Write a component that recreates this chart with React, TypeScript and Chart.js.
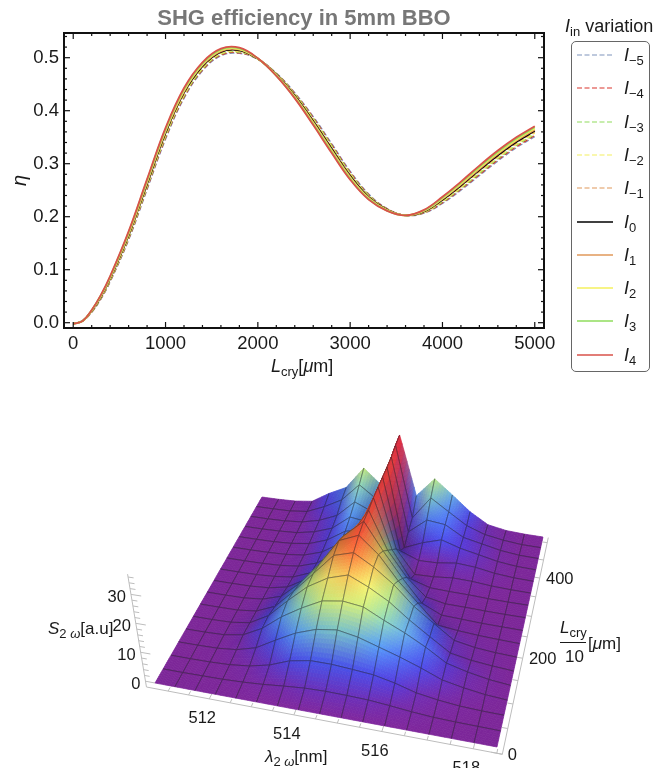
import React, { useEffect, useRef } from "react";
import { Chart, registerables } from "chart.js";

Chart.register(...registerables);

const FONT = '"Liberation Sans", Arial, sans-serif';

// ---------- efficiency curves ----------
const crystalLength = [0, 100, 200, 300, 400, 600, 800, 1000, 1200, 1400, 1600, 1800, 2000, 2200, 2400, 2600, 2800, 3000, 3200, 3400, 3600, 3800, 4000, 4200, 4400, 4600, 4800, 5000];
const iM5 = [-0.002, 0.003, 0.0195, 0.0445, 0.077, 0.156, 0.251, 0.346, 0.423, 0.475, 0.5035, 0.508, 0.497, 0.471, 0.434, 0.389, 0.338, 0.286, 0.243, 0.2155, 0.2025, 0.2065, 0.225, 0.25, 0.2775, 0.305, 0.33, 0.351];
const iM4 = [-0.002, 0.003, 0.02, 0.0454, 0.0782, 0.1578, 0.2532, 0.3484, 0.4252, 0.4768, 0.505, 0.5092, 0.4972, 0.4704, 0.4328, 0.3872, 0.336, 0.2842, 0.2418, 0.215, 0.2025, 0.2072, 0.2264, 0.2518, 0.2796, 0.3072, 0.3322, 0.3532];
const iM3 = [-0.002, 0.003, 0.0205, 0.0463, 0.0794, 0.1596, 0.2554, 0.3508, 0.4274, 0.4786, 0.5065, 0.5104, 0.4974, 0.4698, 0.4316, 0.3854, 0.334, 0.2824, 0.2406, 0.2145, 0.2025, 0.2079, 0.2278, 0.2536, 0.2817, 0.3094, 0.3344, 0.3554];
const iM2 = [-0.002, 0.003, 0.021, 0.0472, 0.0806, 0.1614, 0.2576, 0.3532, 0.4296, 0.4804, 0.508, 0.5116, 0.4976, 0.4692, 0.4304, 0.3836, 0.332, 0.2806, 0.2394, 0.214, 0.2025, 0.2086, 0.2292, 0.2554, 0.2838, 0.3116, 0.3366, 0.3576];
const iM1 = [-0.002, 0.003, 0.0215, 0.0481, 0.0818, 0.1632, 0.2598, 0.3556, 0.4318, 0.4822, 0.5095, 0.5128, 0.4978, 0.4686, 0.4292, 0.3818, 0.33, 0.2788, 0.2382, 0.2135, 0.2025, 0.2093, 0.2306, 0.2572, 0.2859, 0.3138, 0.3388, 0.3598];
const i0 = [-0.002, 0.003, 0.022, 0.049, 0.083, 0.165, 0.262, 0.358, 0.434, 0.484, 0.511, 0.514, 0.498, 0.468, 0.428, 0.38, 0.328, 0.277, 0.237, 0.213, 0.2025, 0.21, 0.232, 0.259, 0.288, 0.316, 0.341, 0.362];
const iP1 = [-0.002, 0.003, 0.0225, 0.0499, 0.0842, 0.1668, 0.2642, 0.3604, 0.4362, 0.4858, 0.5125, 0.5152, 0.4982, 0.4674, 0.4268, 0.3782, 0.326, 0.2752, 0.2358, 0.2125, 0.2025, 0.2107, 0.2334, 0.2608, 0.2901, 0.3182, 0.3432, 0.3642];
const iP2 = [-0.002, 0.003, 0.023, 0.0508, 0.0854, 0.1686, 0.2664, 0.3628, 0.4384, 0.4876, 0.514, 0.5164, 0.4984, 0.4668, 0.4256, 0.3764, 0.324, 0.2734, 0.2346, 0.212, 0.2025, 0.2114, 0.2348, 0.2626, 0.2922, 0.3204, 0.3454, 0.3664];
const iP3 = [-0.002, 0.003, 0.0235, 0.0517, 0.0866, 0.1704, 0.2686, 0.3652, 0.4406, 0.4894, 0.5155, 0.5176, 0.4986, 0.4662, 0.4244, 0.3746, 0.322, 0.2716, 0.2334, 0.2115, 0.2025, 0.2121, 0.2362, 0.2644, 0.2943, 0.3226, 0.3476, 0.3686];
const iP4 = [-0.002, 0.003, 0.024, 0.0526, 0.0878, 0.1722, 0.2708, 0.3676, 0.4428, 0.4912, 0.517, 0.5188, 0.4988, 0.4656, 0.4232, 0.3728, 0.32, 0.2698, 0.2322, 0.211, 0.2025, 0.2128, 0.2376, 0.2662, 0.2964, 0.3248, 0.3498, 0.3708];

const seriesValues = [iM5, iM4, iM3, iM2, iM1, i0, iP1, iP2, iP3, iP4];
const seriesSubs = ["\u22125", "\u22124", "\u22123", "\u22122", "\u22121", "0", "1", "2", "3", "4"];
const seriesColors = ["#7f93bb", "#d9352c", "#8fdc5c", "#f4f05e", "#e0985a", "#000000", "#e0985a", "#f4f05e", "#8fdc5c", "#d9524a"];
const seriesDashed = [true, true, true, true, true, false, false, false, false, false];

const xTickValues = [0, 1000, 2000, 3000, 4000, 5000];
const yTickValues = [0, 0.1, 0.2, 0.3, 0.4, 0.5];

// ---------- spectrum surface ----------
const lambdaNodes = [510.7, 511.19, 511.68, 512.16, 512.65, 513.14, 513.63, 514.11, 514.6, 515.09, 515.58, 516.06, 516.55, 517.04, 517.53, 518.01, 518.5];
const lengthNodes = [0, 31.25, 62.5, 93.75, 125, 156.25, 187.5, 218.75, 250, 281.25, 312.5, 343.75, 375, 406.25, 437.5, 468.75, 500];
const s00 = [0, 0, 0, 0, 0, 0, 0, 0, 0, 0, 0, 0, 0, 0, 0, 0, 0];
const s01 = [0, 0, 0.1, 0.2, 0.5, 1, 1.7, 2.3, 2.5, 2.4, 2.2, 1.6, 0.9, 0.4, 0.2, 0.1, 0];
const s02 = [0, 0, 0.1, 0.4, 1.2, 2.8, 5.5, 6.8, 6.8, 6.3, 5.7, 4.2, 2.2, 1.1, 0.4, 0.1, 0];
const s03 = [0, 0.05, 0.2, 0.9, 2.8, 6.7, 10.4, 12.9, 13.9, 12.6, 10.4, 8.2, 5.7, 2.9, 1.5, 0.5, 0];
const s04 = [0, 0.05, 0.3, 1.5, 5, 10.3, 14.6, 18.3, 19.4, 18.5, 15, 11.8, 8.1, 3.8, 2, 0.7, 0];
const s05 = [0, 0, 0.2, 1.2, 5, 11.5, 17.7, 22, 24.2, 21, 17, 11.7, 7, 2.5, 1.2, 0.5, 0];
const s06 = [0, 0, 0.1, 0.9, 3.8, 10.5, 18, 25.8, 27.9, 23.8, 18.6, 12, 7, 2.2, 0.9, 0.3, 0];
const s07 = [0, 0, 0.1, 0.8, 3, 9, 17, 27, 30, 24, 15.5, 8.6, 1.8, 1, 0.5, 0.2, 0];
const s08 = [0, 0, 0.1, 0.6, 2, 6, 13, 24.7, 31, 21, 12, 4, 0.8, 0.5, 0.2, 0.1, 0];
const s09 = [0, 0, 0.1, 0.5, 1.4, 4.2, 9.5, 20, 31, 17, 8, 1.8, 0.4, 0.3, 0.1, 0, 0];
const s10 = [0, 0, 0.1, 0.4, 1.2, 3.5, 8, 15, 31.7, 13, 3, 0.8, 0.5, 0.4, 0.1, 0, 0];
const s11 = [0, 0, 0.1, 0.4, 1.2, 3.5, 8, 12, 31.8, 9, 0.3, 0.5, 1.2, 1, 0.4, 0.1, 0];
const s12 = [0, 0, 0.1, 0.5, 1.5, 4, 8.5, 10, 31.8, 4, 1.3, 1.5, 2.5, 2, 0.8, 0.2, 0];
const s13 = [0, 0, 0.2, 0.6, 2, 4.5, 10, 9, 31.8, 1, 4, 6.2, 4, 2.5, 1, 0.2, 0];
const s14 = [0, 0, 0.2, 0.8, 2.5, 5.5, 12, 9, 32, 3, 8.8, 8, 4, 2.5, 1, 0.2, 0];
const s15 = [0, 0.05, 0.2, 1, 4, 7.8, 15, 10, 33, 4.5, 13.6, 9, 4.5, 2, 0.8, 0.1, 0];
const s16 = [0, 0.05, 0.3, 1.2, 5.5, 9, 18, 12, 33.5, 9.5, 17.4, 11.8, 6, 1.8, 0.5, 0.1, 0];
const surfaceRows = [s00, s01, s02, s03, s04, s05, s06, s07, s08, s09, s10, s11, s12, s13, s14, s15, s16];

const lambdaMajor = [512, 514, 516, 518];
const lengthMajor = [0, 200, 400];
const heightMajor = [0, 10, 20, 30];

const heightStops: [number, number, number, number][] = [
  [0, 124, 38, 152],
  [0.05, 112, 42, 168],
  [0.12, 84, 58, 214],
  [0.2, 72, 84, 238],
  [0.31, 88, 156, 248],
  [0.43, 134, 212, 196],
  [0.53, 196, 236, 128],
  [0.63, 244, 240, 112],
  [0.73, 248, 190, 84],
  [0.85, 244, 100, 52],
  [1, 226, 38, 52],
];

// ---------- projection of the surface box ----------
const corners = [[155, 683], [497, 747], [543, 537], [262, 497]];
const quad = (() => {
  const [p0, p1, p2, p3] = corners;
  const dx1 = p1[0] - p2[0], dy1 = p1[1] - p2[1], dx2 = p3[0] - p2[0], dy2 = p3[1] - p2[1];
  const sx = p0[0] - p1[0] + p2[0] - p3[0], sy = p0[1] - p1[1] + p2[1] - p3[1];
  const det = dx1 * dy2 - dx2 * dy1;
  const g = (sx * dy2 - dx2 * sy) / det, h = (dx1 * sy - sx * dy1) / det;
  return { g, h, a: p1[0] - p0[0] + g * p1[0], b: p3[0] - p0[0] + h * p3[0], c: p0[0], d: p1[1] - p0[1] + g * p1[1], e: p3[1] - p0[1] + h * p3[1], f: p0[1] };
})();
const LAMBDA_MIN = lambdaNodes[0], LAMBDA_MAX = lambdaNodes[16], LENGTH_MAX = lengthNodes[16];

function project(u: number, v: number, z: number) {
  const w = quad.g * u + quad.h * v + 1;
  const X = (quad.a * u + quad.b * v + quad.c) / w;
  const Y = (quad.d * u + quad.e * v + quad.f) / w;
  const lean = X < 333 ? 0.00258 : 0.0006;
  return { x: X + (X - 333) * z * lean, y: Y - (z * 2.9) / w };
}
const uOf = (l: number) => (l - LAMBDA_MIN) / (LAMBDA_MAX - LAMBDA_MIN);
const vOf = (l: number) => l / LENGTH_MAX;

function heightAt(x: number, y: number) {
  const i = Math.min(15, Math.floor(x)), j = Math.min(15, Math.floor(y));
  const a = x - i, b = y - j;
  const r0 = surfaceRows[j], r1 = surfaceRows[j + 1];
  return (r0[i] * (1 - a) + r0[i + 1] * a) * (1 - b) + (r1[i] * (1 - a) + r1[i + 1] * a) * b;
}
// colour of a surface node: height colour with a little lighting; cells blend their node colours
function nodeColor(i: number, j: number) {
  const s = Math.min(1, surfaceRows[j][i] / 33.5);
  let k = 0;
  while (k < heightStops.length - 2 && s > heightStops[k + 1][0]) k++;
  const A = heightStops[k], B = heightStops[k + 1];
  const t = (s - A[0]) / (B[0] - A[0]);
  const il = Math.max(0, i - 1), ir = Math.min(16, i + 1), jl = Math.max(0, j - 1), jr = Math.min(16, j + 1);
  const su = (((surfaceRows[j][ir] - surfaceRows[j][il]) / (ir - il)) * 2.7) / 22;
  const sv = (((surfaceRows[jr][i] - surfaceRows[jl][i]) / (jr - jl)) * 2.7) / 16;
  const n = Math.sqrt(su * su + sv * sv + 1);
  const ndl = Math.max(0, (-su * 0.15 + sv * 0.3 + 0.88) / n);
  const m = Math.min(1.12, 0.42 + 0.66 * ndl);
  return [1, 2, 3].map((q) => Math.min(255, (A[q] + (B[q] - A[q]) * t) * m));
}

const surfacePlugin = {
  id: "surface",
  afterDatasetsDraw(chart: any) {
    const ctx = chart.ctx;
    const sx = chart.scales.x, sy = chart.scales.y;
    const P = (u: number, v: number, z: number) => {
      const p = project(u, v, z);
      return [sx.getPixelForValue(p.x), sy.getPixelForValue(p.y)];
    };
    const line = (a: number[], b: number[]) => {
      ctx.beginPath();
      ctx.moveTo(a[0], a[1]);
      ctx.lineTo(b[0], b[1]);
      ctx.stroke();
    };
    ctx.save();
    // box axes
    const uLo = -0.03, uHi = 1.015, vHi = 1.03, zLo = -2, zHi = 37;
    ctx.strokeStyle = "#bdbdbd";
    ctx.lineWidth = 1;
    line(P(uLo, 0, zLo), P(uHi, 0, zLo));
    line(P(uHi, 0, zLo), P(uHi, vHi, zLo));
    line(P(uLo, 0, zLo), P(uLo, 0, zHi));
    for (let l = 511; l <= 518.5; l += 0.5) {
      const u = uOf(l), major = lambdaMajor.includes(l);
      line(P(u, 0, zLo), P(u, major ? 0.03 : 0.016, zLo));
    }
    for (let l = 0; l <= 500; l += 50) {
      const major = lengthMajor.includes(l);
      line(P(uHi, vOf(l), zLo), P(uHi - (major ? 0.03 : 0.016), vOf(l), zLo));
    }
    for (let z = 0; z <= 36; z += 2) {
      line(P(uLo, 0, z), P(uLo + (z % 10 === 0 ? 0.03 : 0.016), 0, z));
    }
    // surface, far rows first
    const n = 7;
    const colors = surfaceRows.map((row, j) => row.map((_, i) => nodeColor(i, j)));
    ctx.lineJoin = "round";
    for (let j = 15; j >= 0; j--) {
      for (let i = 0; i < 16; i++) {
        const c00 = colors[j][i], c10 = colors[j][i + 1], c01 = colors[j + 1][i], c11 = colors[j + 1][i + 1];
        for (let b = n - 1; b >= 0; b--) {
          for (let a = 0; a < n; a++) {
            const x0 = i + a / n, x1 = i + (a + 1) / n, y0 = j + b / n, y1 = j + (b + 1) / n;
            const pts = [[x0, y0], [x1, y0], [x1, y1], [x0, y1]].map(([x, y]) => P(x / 16, y / 16, heightAt(x, y)));
            const ca = (a + 0.5) / n, cb = (b + 0.5) / n;
            const rgb = [0, 1, 2].map((q) => Math.round((c00[q] * (1 - ca) + c10[q] * ca) * (1 - cb) + (c01[q] * (1 - ca) + c11[q] * ca) * cb));
            const col = `rgb(${rgb[0]},${rgb[1]},${rgb[2]})`;
            ctx.fillStyle = col;
            ctx.strokeStyle = col;
            ctx.lineWidth = 0.7;
            ctx.beginPath();
            pts.forEach((q, k) => (k ? ctx.lineTo(q[0], q[1]) : ctx.moveTo(q[0], q[1])));
            ctx.closePath();
            ctx.fill();
            ctx.stroke();
          }
        }
        const c = [[i, j], [i + 1, j], [i + 1, j + 1], [i, j + 1]].map(([x, y]) => P(x / 16, y / 16, surfaceRows[y][x]));
        ctx.strokeStyle = "rgba(35,35,40,0.65)";
        ctx.lineWidth = 0.7;
        if (j > 0) line(c[0], c[1]);
        if (j < 15) line(c[3], c[2]);
        if (i > 0) line(c[0], c[3]);
        if (i < 15) line(c[1], c[2]);
      }
    }
    // tick labels
    ctx.fillStyle = "#1a1a1a";
    ctx.font = `16.5px ${FONT}`;
    ctx.textBaseline = "middle";
    ctx.textAlign = "center";
    lambdaMajor.forEach((l) => {
      const p = P(uOf(l), 0, zLo);
      ctx.fillText(String(l), p[0] - 7, p[1] + 20);
    });
    lengthMajor.forEach((l) => {
      const p = P(uHi, vOf(l), zLo);
      ctx.fillText(String(l), p[0] + 20 - (l === 0 ? 10 : 0), p[1] + 1);
    });
    ctx.textAlign = "right";
    heightMajor.forEach((z) => {
      const p = P(uLo, 0, z);
      ctx.fillText(String(z), p[0] - 5, p[1] + 3);
    });
    ctx.restore();
  },
};

const framePlugin = {
  id: "frame",
  afterDatasetsDraw(chart: any) {
    const { ctx, chartArea: A, scales } = chart;
    ctx.save();
    ctx.strokeStyle = "#111";
    const seg = (x0: number, y0: number, x1: number, y1: number) => {
      ctx.beginPath();
      ctx.moveTo(x0, y0);
      ctx.lineTo(x1, y1);
      ctx.stroke();
    };
    ctx.lineWidth = 1.2;
    for (let v = 0; v <= 5000; v += 200) {
      const p = scales.x.getPixelForValue(v), len = xTickValues.includes(v) ? 6 : 3;
      seg(p, A.bottom, p, A.bottom - len);
      seg(p, A.top, p, A.top + len);
    }
    for (let k = 0; k <= 27; k++) {
      const v = k * 0.02;
      const p = scales.y.getPixelForValue(v), len = k % 5 === 0 ? 6 : 3;
      seg(A.left, p, A.left + len, p);
      seg(A.right, p, A.right - len, p);
    }
    ctx.lineWidth = 2;
    ctx.strokeRect(A.left, A.top, A.right - A.left, A.bottom - A.top);
    ctx.restore();
  },
};

const abs = (left: number, top: number, extra: React.CSSProperties = {}): React.CSSProperties => ({
  position: "absolute",
  left,
  top,
  whiteSpace: "nowrap",
  fontFamily: FONT,
  fontSize: 18,
  lineHeight: "20px",
  color: "#1a1a1a",
  ...extra,
});
const subStyle: React.CSSProperties = { fontSize: 13, lineHeight: 0, verticalAlign: "-4px", fontStyle: "normal" };

export default function App() {
  const topRef = useRef<HTMLCanvasElement>(null);
  const bottomRef = useRef<HTMLCanvasElement>(null);

  useEffect(() => {
    const top = new Chart(topRef.current!, {
      type: "scatter",
      data: {
        datasets: seriesValues.map((vals, k) => ({
          label: `I${seriesSubs[k]}`,
          data: vals.map((y, n) => ({ x: crystalLength[n], y })),
          showLine: true,
          borderColor: seriesColors[k],
          borderWidth: seriesDashed[k] ? 1.3 : 1.8,
          borderDash: seriesDashed[k] ? [5, 2.5] : [],
          pointRadius: 0,
          tension: 0.4,
          order: 9 - k,
        })),
      },
      options: {
        responsive: false,
        animation: false,
        layout: { padding: { top: 8, right: 122, left: 0, bottom: 0 } },
        plugins: {
          legend: { display: false },
          tooltip: { enabled: false },
          title: {
            display: true,
            text: "SHG efficiency in 5mm BBO",
            fullSize: false,
            color: "#777777",
            font: { family: FONT, size: 22, weight: "bold", lineHeight: 1 },
            padding: { top: 0, bottom: 3 },
          },
        },
        scales: {
          x: {
            type: "linear",
            min: -100,
            max: 5100,
            grid: { display: false, drawTicks: false },
            border: { display: false },
            afterBuildTicks: (s: any) => {
              s.ticks = xTickValues.map((value) => ({ value }));
            },
            afterFit: (s: any) => {
              s.height = 62;
            },
            ticks: { color: "#1a1a1a", font: { family: FONT, size: 18.5 }, padding: 5, maxRotation: 0, autoSkip: false, callback: (v: any) => String(v) },
          },
          y: {
            type: "linear",
            min: -0.01,
            max: 0.5466,
            title: { display: true, text: "\u03b7", color: "#1a1a1a", font: { family: FONT, size: 20, style: "italic" }, padding: { top: 8, bottom: 0 } },
            grid: { display: false, drawTicks: false },
            border: { display: false },
            afterBuildTicks: (s: any) => {
              s.ticks = yTickValues.map((value) => ({ value }));
            },
            afterFit: (s: any) => {
              s.width = 64;
            },
            ticks: { color: "#1a1a1a", font: { family: FONT, size: 18.5 }, padding: 5, autoSkip: false, callback: (v: any) => Number(v).toFixed(1) },
          },
        },
      } as any,
      plugins: [framePlugin],
    });

    const surfaceNodes: { x: number; y: number }[] = [];
    surfaceRows.forEach((row, j) =>
      row.forEach((s, i) => surfaceNodes.push(project(uOf(lambdaNodes[i]), vOf(lengthNodes[j]), s))),
    );
    const bottom = new Chart(bottomRef.current!, {
      type: "scatter",
      data: { datasets: [{ label: "S2\u03c9", data: surfaceNodes, pointRadius: 0, showLine: false }] },
      options: {
        responsive: false,
        animation: false,
        layout: { padding: 0 },
        plugins: { legend: { display: false }, tooltip: { enabled: false } },
        scales: {
          x: { type: "linear", min: 0, max: 666, display: false },
          y: { type: "linear", min: 390, max: 768, reverse: true, display: false },
        },
      } as any,
      plugins: [surfacePlugin],
    });
    return () => {
      top.destroy();
      bottom.destroy();
    };
  }, []);

  return (
    <div style={{ position: "absolute", left: 0, top: 0, width: 666, height: 768, overflow: "hidden", background: "#fff", filter: "blur(0.3px)" }}>
      <canvas ref={topRef} width={666} height={390} style={{ position: "absolute", left: 0, top: 0, width: 666, height: 390 }} />
      <canvas ref={bottomRef} width={666} height={378} style={{ position: "absolute", left: 0, top: 390, width: 666, height: 378 }} />

      <div style={abs(271, 356)}>
        <i>L</i>
        <span style={subStyle}>cry</span>[<i>{"\u03bc"}</i>m]
      </div>

      <div style={abs(565, 16)}>
        <i>I</i>
        <span style={subStyle}>in</span> variation
      </div>
      <div style={{ position: "absolute", left: 571, top: 41, width: 77, height: 329, border: "1.3px solid #666", borderRadius: 5, boxSizing: "content-box" }} />
      {seriesSubs.map((sub, k) => {
        const y = 55 + k * 33.3;
        return (
          <React.Fragment key={sub}>
            <svg style={{ position: "absolute", left: 577, top: y - 3, width: 37, height: 6 }}>
              <line x1={0} x2={36} y1={3} y2={3} stroke={seriesColors[k]} strokeWidth={seriesDashed[k] ? 1.2 : 1.6} strokeDasharray={seriesDashed[k] ? "5 2.5" : undefined} />
            </svg>
            <div style={abs(624, y - 10)}>
              <i>I</i>
              <span style={subStyle}>{sub}</span>
            </div>
          </React.Fragment>
        );
      })}

      <div style={abs(48, 619, { fontSize: 17 })}>
        <i>S</i>
        <span style={subStyle}>
          2 <i>{"\u03c9"}</i>
        </span>
        [a.u]
      </div>
      <div style={abs(265, 747, { fontSize: 17 })}>
        <i>{"\u03bb"}</i>
        <span style={subStyle}>
          2 <i>{"\u03c9"}</i>
        </span>
        [nm]
      </div>
      <div style={abs(560, 618, { fontSize: 17 })}>
        <i>L</i>
        <span style={subStyle}>cry</span>
      </div>
      <div style={{ position: "absolute", left: 560, top: 642, width: 26, height: 0, borderTop: "1px solid #1a1a1a" }} />
      <div style={abs(565, 647, { fontSize: 17 })}>10</div>
      <div style={abs(588, 634, { fontSize: 17 })}>
        [<i>{"\u03bc"}</i>m]
      </div>
    </div>
  );
}
